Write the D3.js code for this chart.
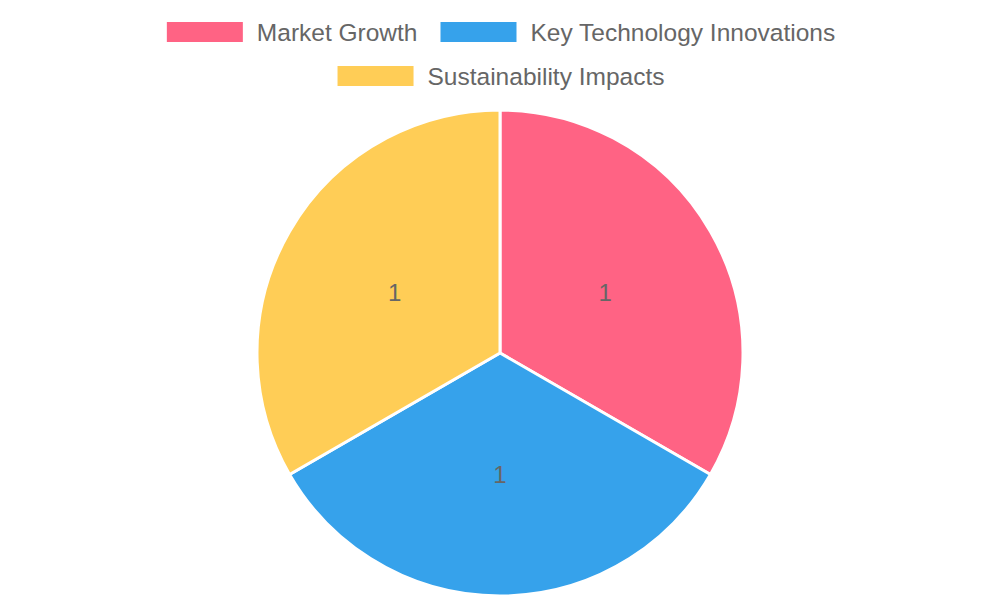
<!DOCTYPE html>
<html>
<head>
<meta charset="utf-8">
<script src="https://cdn.jsdelivr.net/npm/d3@7"></script>
<style>
  html, body { margin: 0; padding: 0; background: #fff; }
  svg text { font-family: "Liberation Sans", Arial, Helvetica, sans-serif; fill: #666; }
</style>
</head>
<body>
<svg id="pie-chart" width="1000" height="600"></svg>
<script>
const categories = ['Market Growth', 'Key Technology Innovations', 'Sustainability Impacts'];
const values = [1, 1, 1];
const colors = ['#FF6384', '#36A2EB', '#FFCD56'];

const svg = d3.select('#pie-chart');
const width = +svg.attr('width');

// legend rows, as laid out in the reference
const legendRows = [[0, 1], [2]];
const boxW = 76, boxH = 20, fontSize = 24.5, textGap = 14, itemGap = 23;
const rowY = [32, 76];

const legend = svg.append('g').attr('class', 'legend');
legendRows.forEach((row, ri) => {
    const rowG = legend.append('g');
    let x = 0;
    row.forEach(i => {
        const item = rowG.append('g').attr('transform', `translate(${x},0)`);
        item.append('rect')
            .attr('x', 0)
            .attr('y', rowY[ri] - boxH / 2)
            .attr('width', boxW)
            .attr('height', boxH)
            .attr('fill', colors[i]);
        const t = item.append('text')
            .attr('x', boxW + textGap)
            .attr('y', rowY[ri])
            .attr('dy', '0.35em')
            .style('font-size', fontSize + 'px')
            .text(categories[i]);
        x += boxW + textGap + t.node().getComputedTextLength() + itemGap;
    });
    const rowWidth = x - itemGap;
    rowG.attr('transform', `translate(${(width - rowWidth) / 2 + 1},0)`);
});

// pie
const cx = 500, cy = 353, radius = 243;
const pie = d3.pie().sort(null).value(d => d);
const arc = d3.arc().innerRadius(0).outerRadius(radius);
const labelArc = d3.arc().innerRadius(radius / 2).outerRadius(radius / 2);

const g = svg.append('g').attr('transform', `translate(${cx},${cy})`);
const arcs = pie(values);

g.selectAll('path')
    .data(arcs)
    .enter().append('path')
    .attr('d', arc)
    .attr('fill', (d, i) => colors[i])
    .attr('stroke', '#fff')
    .attr('stroke-width', 3)
    .attr('stroke-linejoin', 'round');

g.selectAll('text.slice-label')
    .data(arcs)
    .enter().append('text')
    .attr('class', 'slice-label')
    .attr('transform', d => `translate(${labelArc.centroid(d)})`)
    .attr('text-anchor', 'middle')
    .attr('dy', '0.35em')
    .style('font-size', '24px')
    .text(d => d.data);
</script>
</body>
</html>
